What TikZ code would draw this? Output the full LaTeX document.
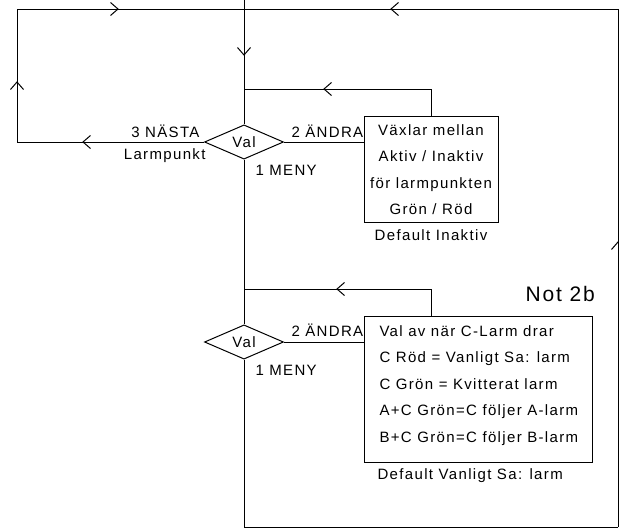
\documentclass[tikz,border=0pt]{standalone}
\usepackage{fontspec}
\setmainfont[LetterSpace=9]{Liberation Sans}
\usetikzlibrary{shapes.geometric,decorations.markings}
\tikzset{
  chev/.style={postaction={decorate},decoration={markings,mark=at position #1 with {\draw[line width=1pt] (-7.5pt,6.5pt) -- (0pt,0pt) -- (-7.5pt,-6.5pt);}}},
  dia/.style={draw, diamond, minimum width=79pt, minimum height=26pt, inner sep=0pt},
  box/.style={draw, rectangle, inner sep=0pt},
  txt/.style={font=\fontsize{15}{18}\selectfont, inner sep=0pt},
  big/.style={font=\fontsize{21}{24}\selectfont, inner sep=0pt}
}
\begin{document}
\begin{tikzpicture}[x=1pt,y=-1pt,line width=1pt]
\useasboundingbox (0,0) rectangle (619,530);
% decision nodes and boxes
\node[dia,txt] (d1) at (244,142) {Val};
\node[dia,txt] (d2) at (244,342) {Val};
\node[box, minimum width=134pt, minimum height=106pt] (b1) at (431,169) {};
\node[box, minimum width=228pt, minimum height=146pt] (b2) at (478,389) {};
% coordinates
\coordinate (top) at (244,0);
\coordinate (jT) at (244,9);
\coordinate (cL) at (17,142);
\coordinate (cTL) at (17,9);
\coordinate (cTR) at (618,9);
\coordinate (cBR) at (618,527);
\coordinate (bot) at (244,527);
\coordinate (j1) at (244,89);
\coordinate (k1) at (431,89);
\coordinate (j2) at (244,289);
\coordinate (k2) at (431,289);
% labels
\node[txt, anchor=base east] (n3) at (200,137) {3 NÄSTA};
\node[txt, anchor=base east] (lp) at (206,159) {Larmpunkt};
\node[txt, anchor=base west] (a1) at (291,137) {2 ÄNDRA};
\node[txt, anchor=base west] (m1) at (255,175) {1 MENY};
\node[txt, anchor=base west] (a2) at (291,336) {2 ÄNDRA};
\node[txt, anchor=base west] (m2) at (255,375) {1 MENY};
% box 1 text
\node[txt, anchor=base] (t11) at (431,135) {Växlar mellan};
\node[txt, anchor=base] (t12) at (431,161.5) {Aktiv / Inaktiv};
\node[txt, anchor=base] (t13) at (431,188) {för larmpunkten};
\node[txt, anchor=base] (t14) at (431,214) {Grön / Röd};
\node[txt, anchor=base] (def1) at (431,240) {Default Inaktiv};
% box 2 text
\node[txt, anchor=base west] (t21) at (379,336) {Val av när C-Larm drar};
\node[txt, anchor=base west] (t22) at (379,362.5) {C Röd = Vanligt Sa: larm};
\node[txt, anchor=base west] (t23) at (379,389) {C Grön = Kvitterat larm};
\node[txt, anchor=base west] (t24) at (379,415.5) {A+C Grön=C följer A-larm};
\node[txt, anchor=base west] (t25) at (379,442) {B+C Grön=C följer B-larm};
\node[txt, anchor=base west] (def2) at (377,479) {Default Vanligt Sa: larm};
\node[big, anchor=base west] (not) at (525,301) {Not 2b};
% connectors
\draw[chev=55pt] (top) -- (d1.north);
\draw (d1.south) -- (d2.north);
\draw (d2.south) -- (bot) -- (cBR);
\draw[chev=285pt] (cBR) -- (cTR);
\draw[chev=227pt] (cTR) -- (jT);
\draw[chev=121pt] (d1.west) -- (cL);
\draw[chev=60pt] (cL) -- (cTL);
\draw[chev=101pt] (cTL) -- (jT);
\draw (d1.east) -- (d1.east -| b1.west);
\draw (b1.north) -- (k1);
\draw[chev=107pt] (k1) -- (j1);
\draw (d2.east) -- (d2.east -| b2.west);
\draw (k2 |- b2.north) -- (k2);
\draw[chev=94pt] (k2) -- (j2);
\end{tikzpicture}
\end{document}
